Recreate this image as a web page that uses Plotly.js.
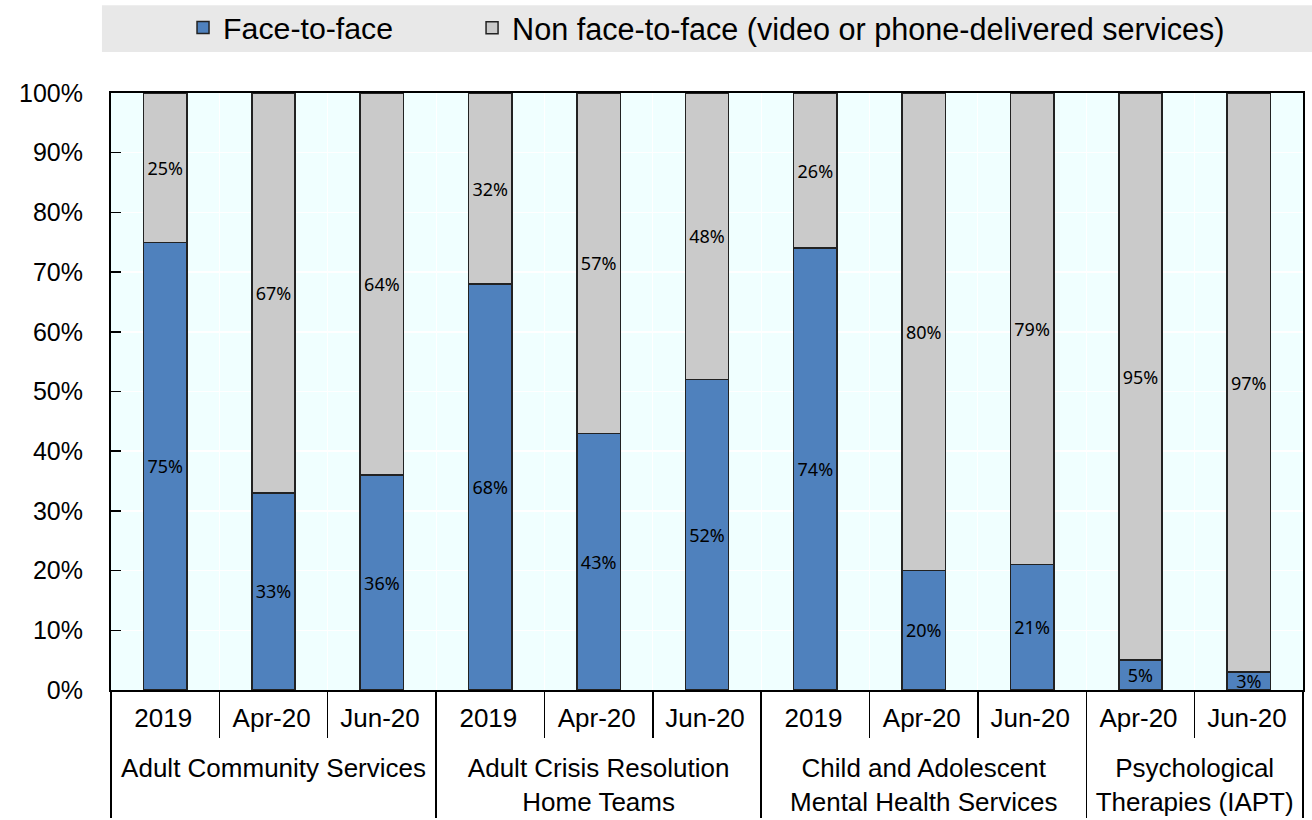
<!DOCTYPE html>
<html>
<head>
<meta charset="utf-8">
<script src="https://cdn.plot.ly/plotly-3.0.1.min.js"></script>
<style>html,body{margin:0;padding:0;background:#fff;}#chart{width:1312px;height:820px;}</style>
</head>
<body>
<div id="chart"></div>
<script>
var groups = [
  "Adult Community Services", "Adult Community Services", "Adult Community Services",
  "Adult Crisis Resolution<br>Home Teams", "Adult Crisis Resolution<br>Home Teams", "Adult Crisis Resolution<br>Home Teams",
  "Child and Adolescent<br>Mental Health Services", "Child and Adolescent<br>Mental Health Services", "Child and Adolescent<br>Mental Health Services",
  "Psychological<br>Therapies (IAPT)", "Psychological<br>Therapies (IAPT)"
];
var periods = ["2019", "Apr-20", "Jun-20", "2019", "Apr-20", "Jun-20", "2019", "Apr-20", "Jun-20", "Apr-20", "Jun-20"];
var faceToFace = [75, 33, 36, 68, 43, 52, 74, 20, 21, 5, 3];
var nonFaceToFace = [25, 67, 64, 32, 57, 48, 26, 80, 79, 95, 97];

var pct = function (v) { return v + "%"; };
var labelFont = {family: "Noto Sans, DejaVu Sans, sans-serif", size: 18, color: "#000"};
var barLine = {color: "#222222", width: 1.5};

// period labels get a tall hair-space so the group row sits lower (spacing only)
var alias = {};
periods.forEach(function (p) {
  alias[p] = p + "<span style='font-size:46px'>\u200A</span>";
});

var traces = [
  {
    type: "bar", name: "Face-to-face", legend: "legend",
    x: [groups, periods], y: faceToFace,
    marker: {color: "#4F81BD", line: barLine},
    width: 0.4,
    text: faceToFace.map(pct), textposition: "inside", insidetextanchor: "middle",
    constraintext: "none", textfont: labelFont, textangle: 0,
    hoverinfo: "skip"
  },
  {
    type: "bar", name: "Non face-to-face (video or phone-delivered services)", legend: "legend2",
    x: [groups, periods], y: nonFaceToFace,
    marker: {color: "#CACACA", line: barLine},
    width: 0.4,
    text: nonFaceToFace.map(pct), textposition: "inside", insidetextanchor: "middle",
    constraintext: "none", textfont: labelFont, textangle: 0,
    hoverinfo: "skip"
  }
];

var layout = {
  width: 1312, height: 820,
  margin: {l: 111, r: 9, t: 93, b: 130},
  barmode: "stack",
  paper_bgcolor: "#ffffff",
  plot_bgcolor: "#F0FFFF",
  font: {family: "Liberation Sans, Arial, sans-serif", color: "#000"},
  showlegend: true,
  legend: {
    orientation: "h", xref: "container", yref: "container",
    x: 0.1395, xanchor: "left", y: 0.966, yanchor: "middle",
    bgcolor: "rgba(0,0,0,0)", font: {size: 30.3, family: "Liberation Sans, Arial, sans-serif"},
    itemclick: false
  },
  legend2: {
    orientation: "h", xref: "container", yref: "container",
    x: 0.3598, xanchor: "left", y: 0.966, yanchor: "middle",
    bgcolor: "rgba(0,0,0,0)", font: {size: 30.6, family: "Liberation Sans, Arial, sans-serif"},
    itemclick: false
  },
  shapes: [{
    type: "rect", xref: "paper", yref: "paper",
    x0: -0.0076, x1: 1.0076, y0: 1.0687, y1: 1.147,
    fillcolor: "#E8E8E8", line: {width: 0}, layer: "below"
  }],
  xaxis: {
    type: "multicategory",
    labelalias: alias,
    showline: true, linecolor: "#000", linewidth: 2, mirror: true,
    showgrid: true, gridcolor: "#ffffff", gridwidth: 1,
    ticks: "outside", ticklen: 46, tickcolor: "#000", tickwidth: 1.5,
    ticklabelstandoff: 4,
    showdividers: true, dividercolor: "#000", dividerwidth: 1.5,
    tickfont: {size: 26, family: "Liberation Sans, Arial, sans-serif", color: "#000"},
    zeroline: false
  },
  yaxis: {
    range: [0, 100], dtick: 10, ticksuffix: "%",
    showline: true, linecolor: "#000", linewidth: 2, mirror: true,
    showgrid: true, gridcolor: "#ffffff", gridwidth: 1.5,
    ticks: "inside", ticklen: 10, tickcolor: "#000", tickwidth: 1.5,
    ticklabelstandoff: 21,
    tickfont: {size: 25, family: "Liberation Sans, Arial, sans-serif", color: "#000"},
    zeroline: false, fixedrange: true
  }
};

Plotly.newPlot("chart", traces, layout, {displayModeBar: false, staticPlot: true});
</script>
</body>
</html>
